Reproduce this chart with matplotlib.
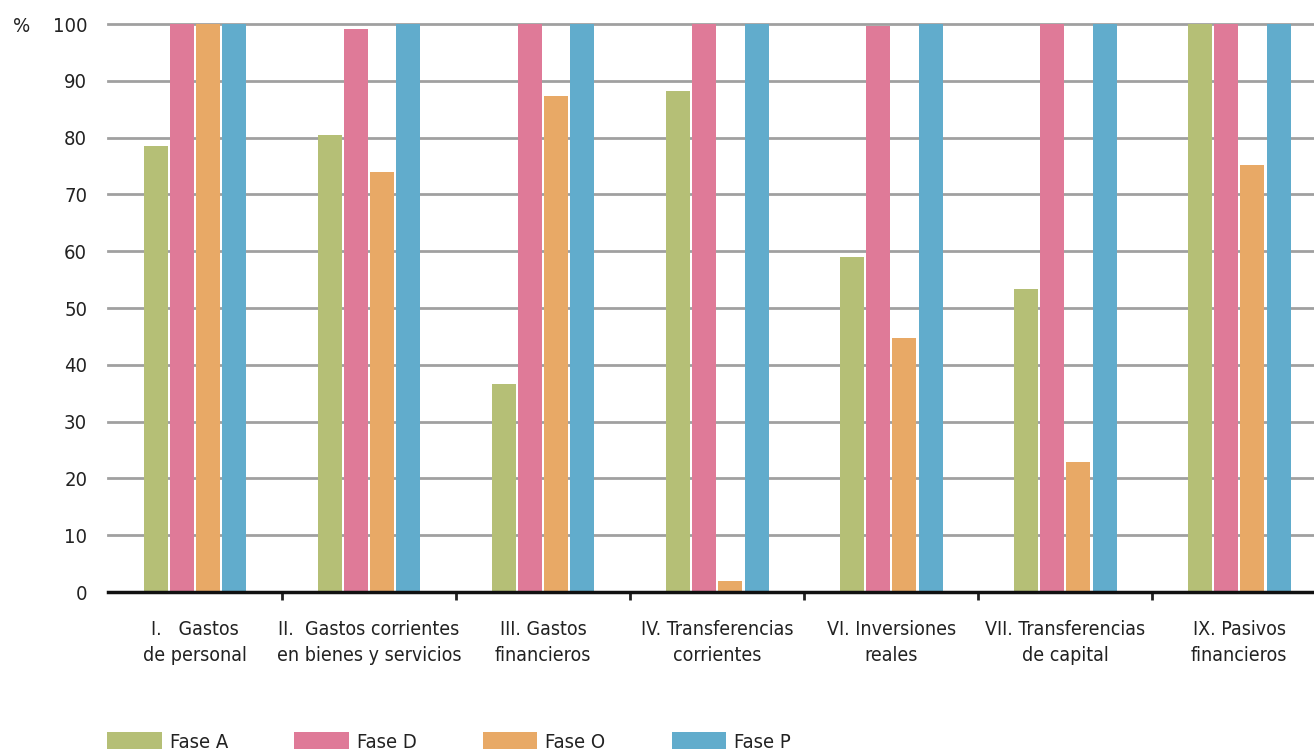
import numpy as np
import matplotlib
matplotlib.use("Agg")
import matplotlib.pyplot as plt

plt.rcParams['font.family'] = ['DejaVu Sans']
plt.rcParams['font.stretch'] = 'condensed'

categories = ["I.   Gastos\nde personal",
              "II.  Gastos corrientes\nen bienes y servicios",
              "III. Gastos\nfinancieros",
              "IV. Transferencias\ncorrientes",
              "VI. Inversiones\nreales",
              "VII. Transferencias\nde capital",
              "IX. Pasivos\nfinancieros"]
fase_a = [78.6, 80.4, 36.7, 88.2, 59.0, 53.3, 100.0]
fase_d = [100.0, 99.2, 100.0, 100.0, 99.6, 100.0, 100.0]
fase_o = [100.0, 74.0, 87.4, 1.9, 44.8, 22.8, 75.1]
fase_p = [100.0, 100.0, 100.0, 100.0, 100.0, 100.0, 100.0]
series = ["Fase A", "Fase D", "Fase O", "Fase P"]
colors = ["#B5BF76", "#DF7A98", "#E8A966", "#61ACCC"]
yticks = list(range(0, 101, 10))

fs = 14

fig = plt.figure(figsize=(13.14, 7.51), dpi=100)
ax = fig.add_axes([108 / 1314, 1 - 592 / 751, 1 - 108 / 1314, (592 - 24) / 751])

x = np.arange(len(categories))
width = 0.138
step = 0.151
for i, (vals, name, c) in enumerate(zip([fase_a, fase_d, fase_o, fase_p], series, colors)):
    ax.bar(x + (i - 1.5) * step, vals, width, color=c, label=name, zorder=3)

ax.set_xlim(-0.5, 6.43)
ax.set_ylim(0, 100)
ax.set_yticks(yticks)
ax.yaxis.grid(True, color="#A0A0A0", linewidth=2, zorder=0)
for line in ax.get_ygridlines():
    line.set_clip_on(False)
ax.tick_params(axis="y", length=0, pad=15, labelsize=fs + 0.5, labelcolor="#222222")

ax.set_xticks(np.arange(len(categories) - 1) + 0.5)
ax.set_xticklabels([])
ax.tick_params(axis="x", which="major", length=6, width=2, color="#222222")
ax.set_xticks(x, minor=True)
ax.set_xticklabels(categories, minor=True, fontsize=fs, color="#222222", linespacing=1.45)
ax.tick_params(axis="x", which="minor", length=0, pad=20)

for s in ["top", "right", "left"]:
    ax.spines[s].set_visible(False)
ax.spines["bottom"].set_linewidth(2.5)
ax.spines["bottom"].set_color("#111111")
ax.spines["bottom"].set_zorder(4)

fig.text(22 / 1314, 1 - 27 / 751, "%", fontsize=fs + 0.5, color="#222222", ha="center", va="center")

handles, labels = ax.get_legend_handles_labels()
fig.legend(handles, labels, loc="center left", bbox_to_anchor=(89 / 1314, 1 - 742 / 751),
           ncol=4, frameon=False, fontsize=fs + 0.5, handlelength=2.7, handleheight=0.85,
           handletextpad=0.4, columnspacing=3.3, labelcolor="#222222")

fig.savefig("out.png", dpi=100)
